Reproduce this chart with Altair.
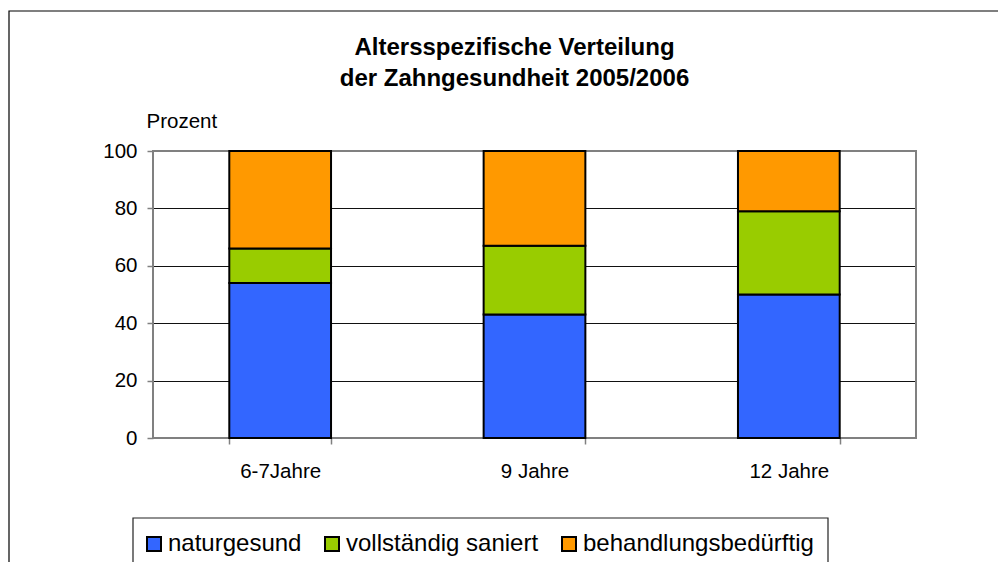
import altair as alt
import pandas as pd

ages = ["6-7Jahre", "9 Jahre", "12 Jahre"]
series = ["naturgesund", "vollständig saniert", "behandlungsbedürftig"]
naturgesund = [54, 43, 50]
saniert = [12, 24, 29]
behandlung = [34, 33, 21]
colors = ["#3366FF", "#99CC00", "#FF9900"]

rows = []
for i, a in enumerate(ages):
    for j, (s, vals) in enumerate(zip(series, [naturgesund, saniert, behandlung])):
        rows.append({"Alter": a, "Kategorie": s, "Prozent": vals[i], "ord": j})
df = pd.DataFrame(rows)

FONT = "Liberation Sans"
W, H = 763, 287

bars = alt.Chart(df).mark_bar(stroke="black", strokeWidth=2, opacity=1).encode(
    x=alt.X("Alter:N", sort=ages, title=None,
            scale=alt.Scale(paddingInner=0.6, paddingOuter=0.3),
            axis=alt.Axis(tickBand="extent", tickSize=6, tickColor="#808080", tickWidth=1.5,
                          domain=False, labelAngle=0, labelFontSize=20.5, labelColor="black",
                          labelPadding=17, labelFont=FONT, grid=False)),
    y=alt.Y("Prozent:Q", stack="zero",
            scale=alt.Scale(domain=[0, 100], nice=False),
            axis=alt.Axis(values=[0, 20, 40, 60, 80, 100], title="Prozent",
                          titleAngle=0, titleX=-7, titleY=-24, titleAlign="left",
                          titleBaseline="alphabetic", titleFontSize=20.5,
                          titleFontWeight="normal", titleColor="black", titleFont=FONT,
                          tickSize=6, tickColor="#808080", tickWidth=1.5,
                          domain=False, labelFontSize=20.5, labelColor="black",
                          labelPadding=10, labelFont=FONT,
                          grid=True, gridColor="#111111", gridWidth=1)),
    color=alt.Color("Kategorie:N", sort=series,
                    scale=alt.Scale(domain=series, range=colors),
                    legend=alt.Legend(orient="none", legendX=-11, legendY=381,
                                      direction="horizontal", title=None, padding=0,
                                      symbolType="square", symbolSize=196,
                                      symbolStrokeColor="black", symbolStrokeWidth=2,
                                      symbolOpacity=1, labelLimit=500,
                                      labelFontSize=24, labelColor="black", labelFont=FONT,
                                      labelOffset=2, columnPadding=18)),
    order=alt.Order("ord:Q", sort="ascending"),
)

deco = alt.Data(values=[{"k": 1}])

plot_border = alt.Chart(deco).mark_rect(fill=None, stroke="#808080", strokeWidth=2).encode(
    x=alt.value(0), x2=alt.value(W), y=alt.value(0), y2=alt.value(H))

outer_frame = alt.Chart(deco).mark_rect(fill=None, stroke="#000000", strokeWidth=1.2).encode(
    x=alt.value(-144), x2=alt.value(900), y=alt.value(-140), y2=alt.value(500))

legend_box = alt.Chart(deco).mark_rect(fill=None, stroke="#222222", strokeWidth=1.2).encode(
    x=alt.value(-20), x2=alt.value(675), y=alt.value(367), y2=alt.value(440))

chart = alt.layer(outer_frame, legend_box, plot_border, bars).properties(
    width=W, height=H,
    padding={"left": 145, "top": 143, "right": 82, "bottom": 124},
    autosize=alt.AutoSizeParams(type="none"),
    title=alt.Title(["Altersspezifische Verteilung", "der Zahngesundheit 2005/2006"],
                    fontSize=24, fontWeight="bold", font=FONT, color="black",
                    anchor="middle", dx=-20, dy=91, lineHeight=31, offset=10),
).configure_view(stroke=None).configure(font=FONT, background="white")

chart.save("out.html", embed_options={"renderer": "svg", "actions": False})
